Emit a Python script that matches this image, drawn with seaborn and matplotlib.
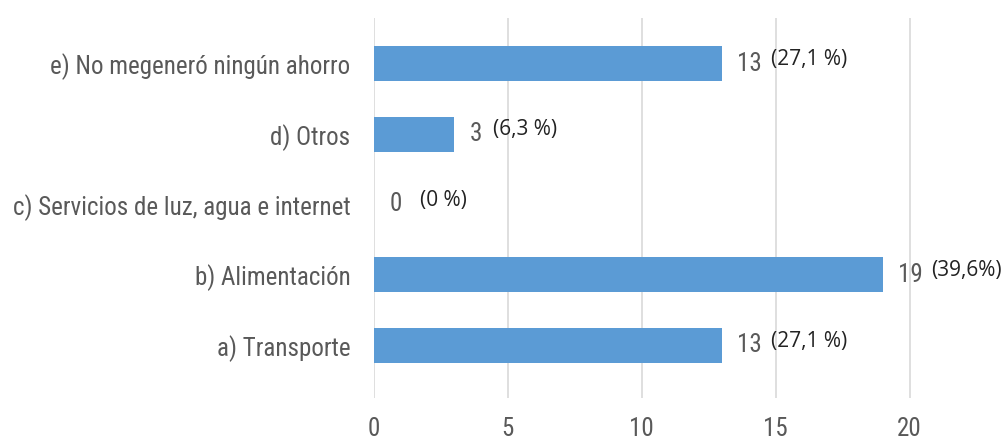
import matplotlib
matplotlib.use("Agg")
import matplotlib.pyplot as plt
from matplotlib import font_manager
import seaborn as sns
import pandas as pd

categories = ["e) No megeneró ningún ahorro", "d) Otros",
              "c) Servicios de luz, agua e internet", "b) Alimentación",
              "a) Transporte"]
values = [13, 3, 0, 19, 13]
pct_labels = ["(27,1 %)", "(6,3 %)", "(0 %)", "(39,6%)", "(27,1 %)"]
value_labels = ["13", "3", "0", "19", "13"]
xticks = [0, 5, 10, 15, 20]

sns.set_theme(style="white")
names = {f.name for f in font_manager.fontManager.ttflist}
cands = ["Liberation Sans Narrow", "DejaVu Sans Condensed", "Roboto Condensed",
         "Open Sans Condensed", "Noto Sans Condensed"]
narrow = next((c for c in cands if c in names), None)
if narrow is None:
    narrow = "Noto Sans" if "Noto Sans" in names else "DejaVu Sans"
    stretch = "condensed"
else:
    stretch = "normal"
plt.rcParams['font.family'] = [narrow, 'DejaVu Sans']
plt.rcParams['font.stretch'] = stretch

df = pd.DataFrame({"cat": categories, "val": values})

fig = plt.figure(figsize=(10.06, 4.41), dpi=100)
ax = fig.add_axes([0.3718, 0.0975, 0.6282, 0.8617])
sns.barplot(data=df, y="cat", x="val", orient="h", color="#5B9BD5",
            saturation=1, width=0.5, linewidth=0, ax=ax)

ax.set_xlim(0, 23.6)
ax.set_ylim(4.75, -0.65)
ax.set_xticks(xticks)
ax.set_xlabel("")
ax.set_ylabel("")
for s in ax.spines.values():
    s.set_visible(False)
ax.grid(axis="x", color="#D9D9D9", linewidth=1.2)
ax.set_axisbelow(True)
lab_fs = 18
ax.tick_params(axis="x", length=0, pad=14, labelsize=lab_fs, labelcolor="#595959")
ax.tick_params(axis="y", length=0, pad=17, labelsize=lab_fs, labelcolor="#595959")

for i, (v, vl, pl) in enumerate(zip(values, value_labels, pct_labels)):
    ax.annotate(vl, (v, i), xytext=(11, 0), textcoords="offset points",
                ha="left", va="center", fontsize=lab_fs, color="#595959")
    off = 35 if len(vl) == 2 else 28
    if v == 0:
        off = 33
    ax.annotate(pl, (v, i), xytext=(off, 3), textcoords="offset points",
                ha="left", va="center", fontsize=15, color="#222222",
                family=["Open Sans", "DejaVu Sans"], fontstretch="normal")

fig.savefig("out.png", dpi=100)
